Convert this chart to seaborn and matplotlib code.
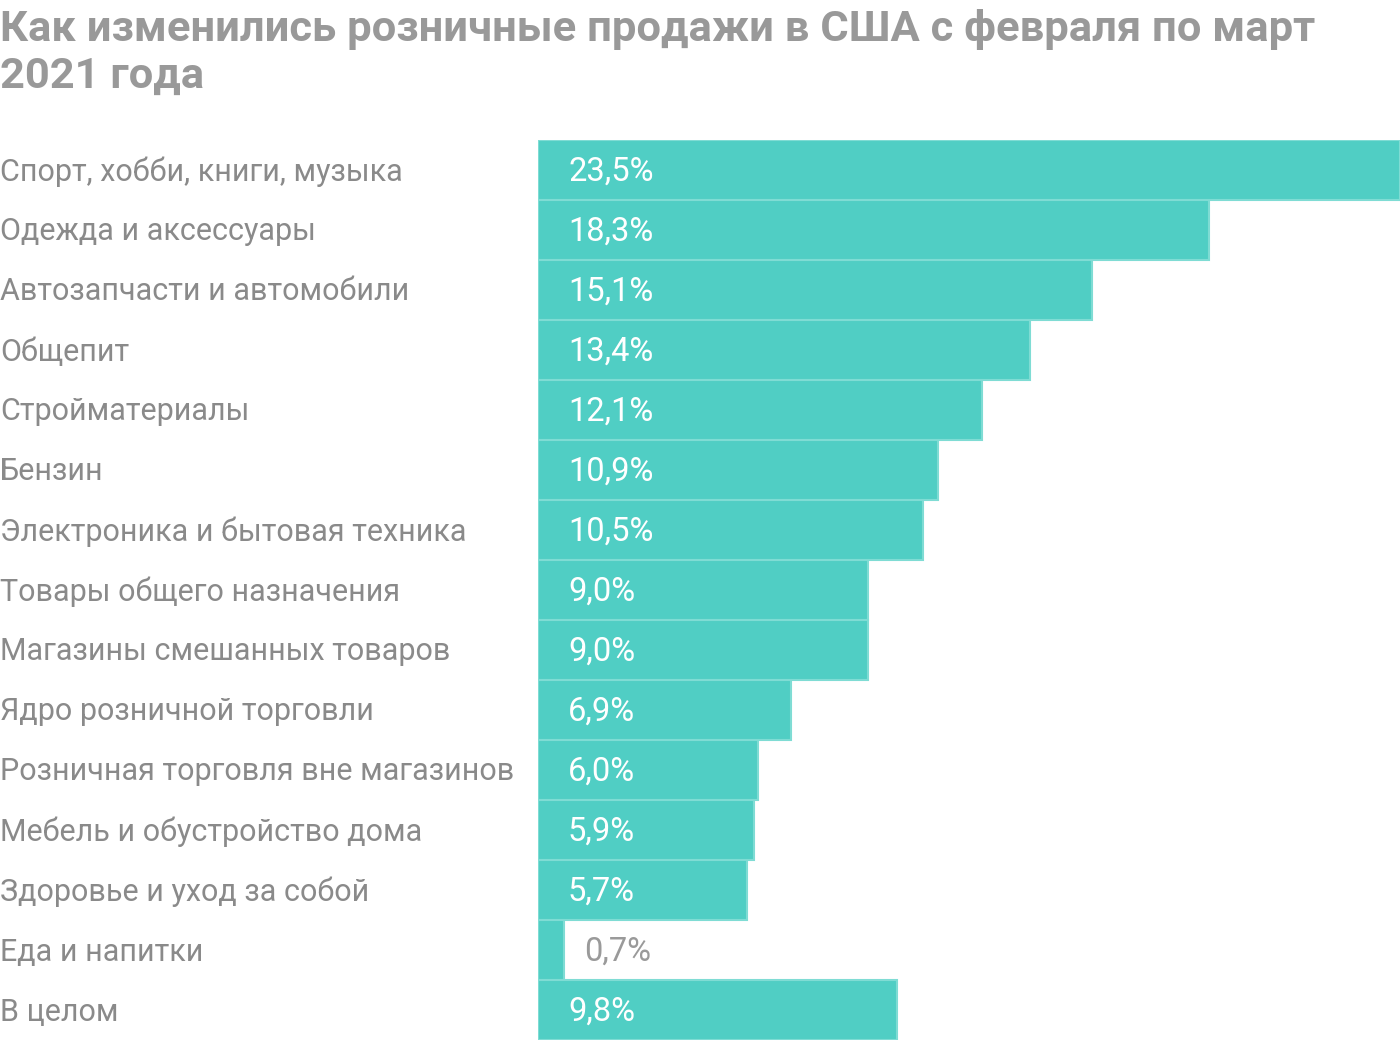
import matplotlib
matplotlib.use("Agg")
import matplotlib.pyplot as plt
import seaborn as sns
import pandas as pd

categories = [
    "Спорт, хобби, книги, музыка",
    "Одежда и аксессуары",
    "Автозапчасти и автомобили",
    "Общепит",
    "Стройматериалы",
    "Бензин",
    "Электроника и бытовая техника",
    "Товары общего назначения",
    "Магазины смешанных товаров",
    "Ядро розничной торговли",
    "Розничная торговля вне магазинов",
    "Мебель и обустройство дома",
    "Здоровье и уход за собой",
    "Еда и напитки",
    "В целом",
]
values = [23.5, 18.3, 15.1, 13.4, 12.1, 10.9, 10.5, 9.0, 9.0, 6.9, 6.0, 5.9, 5.7, 0.7, 9.8]
title = "Как изменились розничные продажи в США с февраля по март\n2021 года"

sns.set_theme(style="white")
plt.rcParams['font.family'] = ['Roboto', 'DejaVu Sans']

df = pd.DataFrame({"cat": categories, "val": values})

W, H = 1400, 1040
fig = plt.figure(figsize=(W / 100, H / 100), dpi=100)
ax = fig.add_axes([538 / W, 0, 1 - 538 / W, 900 / H])

bar_color = "#50CEC4"
sns.barplot(data=df, x="val", y="cat", orient="h", color=bar_color, width=1.0,
            saturation=1, edgecolor="#7FDCD4", linewidth=1.5, ax=ax)

ax.set_xlim(0, 23.5)
ax.set_ylim(len(categories) - 0.5, -0.5)
ax.set_xlabel("")
ax.set_ylabel("")
ax.set_xticks([])
ax.set_yticks([])
for s in ax.spines.values():
    s.set_visible(False)

for i, (c, v) in enumerate(zip(categories, values)):
    ax.annotate(c, xy=(0, i), xytext=(-538, -2), textcoords="offset pixels",
                ha="left", va="center", fontsize=22, color="#8A8A8A",
                annotation_clip=False)
    lab = f"{v:.1f}%".replace(".", ",")
    if v < 2:
        ax.annotate(lab, xy=(v, i), xytext=(20, -2), textcoords="offset pixels",
                    ha="left", va="center", fontsize=23.5, color="#9A9A9A")
    else:
        ax.annotate(lab, xy=(0, i), xytext=(30, -2), textcoords="offset pixels",
                    ha="left", va="center", fontsize=23.5, color="white")

fig.text(0.0, 1 - 9 / H, title, ha="left", va="top", fontsize=31.3,
         fontweight="bold", color="#999999", linespacing=1.17)

fig.savefig("out.png", dpi=100)
